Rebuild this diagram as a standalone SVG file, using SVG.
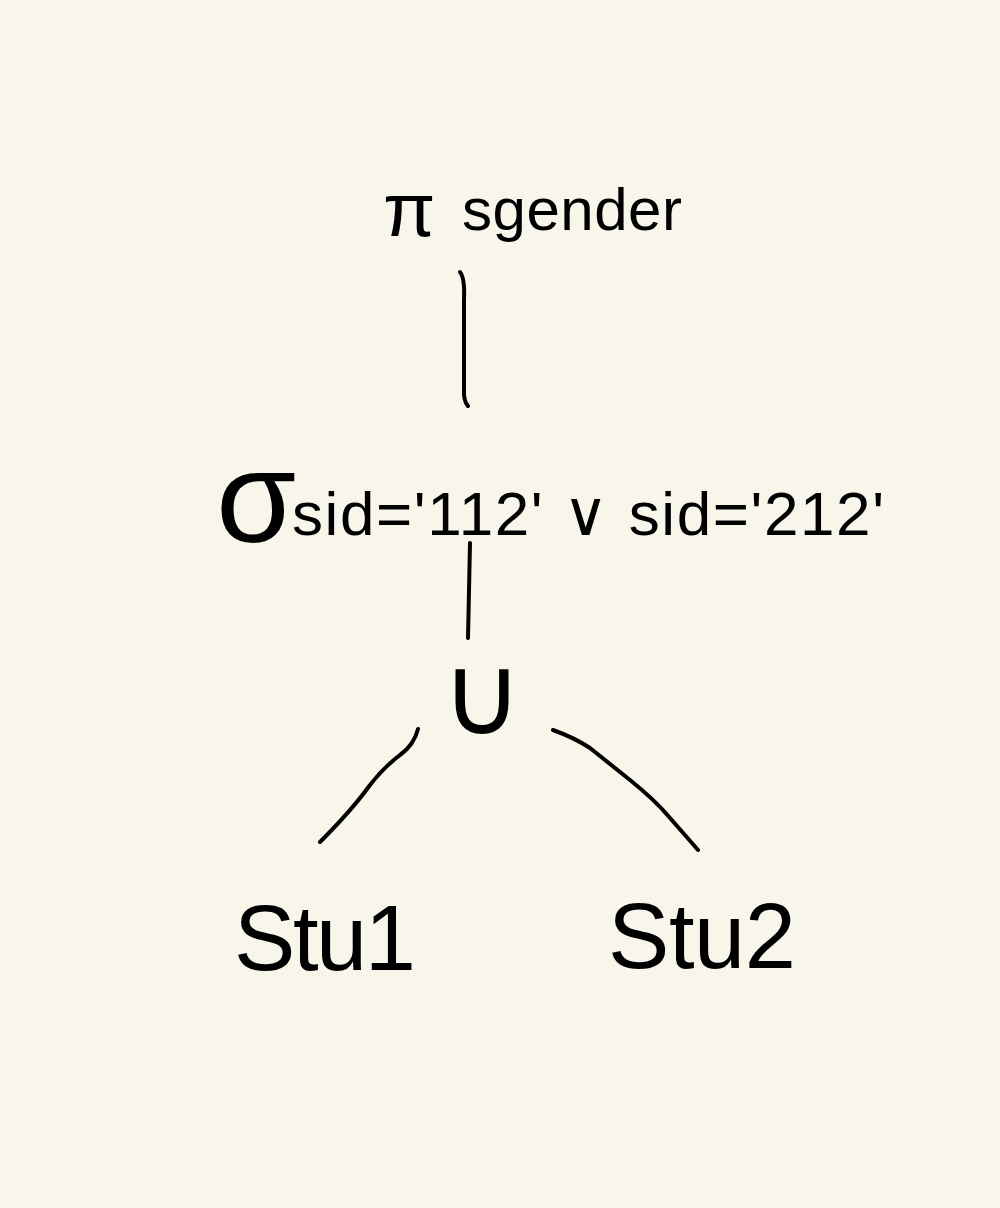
<svg xmlns="http://www.w3.org/2000/svg" width="1000" height="1208" viewBox="0 0 1000 1208">
<style>
.t{font-family:"Liberation Sans","DejaVu Sans",sans-serif;fill:#000}
.c{fill:none;stroke:#000;stroke-width:4;stroke-linecap:round;stroke-linejoin:round}
</style>
<rect width="1000" height="1208" fill="#f8f6ea"/>
<g id="project">
<text class="t" x="383" y="236" font-size="76">π</text>
<text class="t" x="462" y="230" font-size="60" textLength="220" lengthAdjust="spacing">sgender</text>
</g>
<g id="select">
<text class="t" x="216" y="542" font-size="130">σ</text>
<text class="t" x="292" y="535" font-size="62" textLength="592" lengthAdjust="spacing">sid='112' ∨ sid='212'</text>
</g>
<g id="union">
<text class="t" x="482" y="734" font-size="112" text-anchor="middle">∪</text>
</g>
<g id="stu1">
<text class="t" x="234" y="970" font-size="92" textLength="182" lengthAdjust="spacing">Stu1</text>
</g>
<g id="stu2">
<text class="t" x="608" y="968" font-size="92" textLength="188" lengthAdjust="spacing">Stu2</text>
</g>
<g id="connectors">
<path class="c" d="M460,272 Q465,278 464,300 L464,395 Q465,403 468,406"/>
<path class="c" d="M470,543 Q469,590 468,638"/>
<path class="c" d="M418,729 Q414,745 400,755 Q383,768 370,785 Q352,810 320,842"/>
<path class="c" d="M553,730 Q575,738 590,748 Q605,760 630,780 Q655,800 670,818 Q685,835 698,850"/>
</g>
</svg>
